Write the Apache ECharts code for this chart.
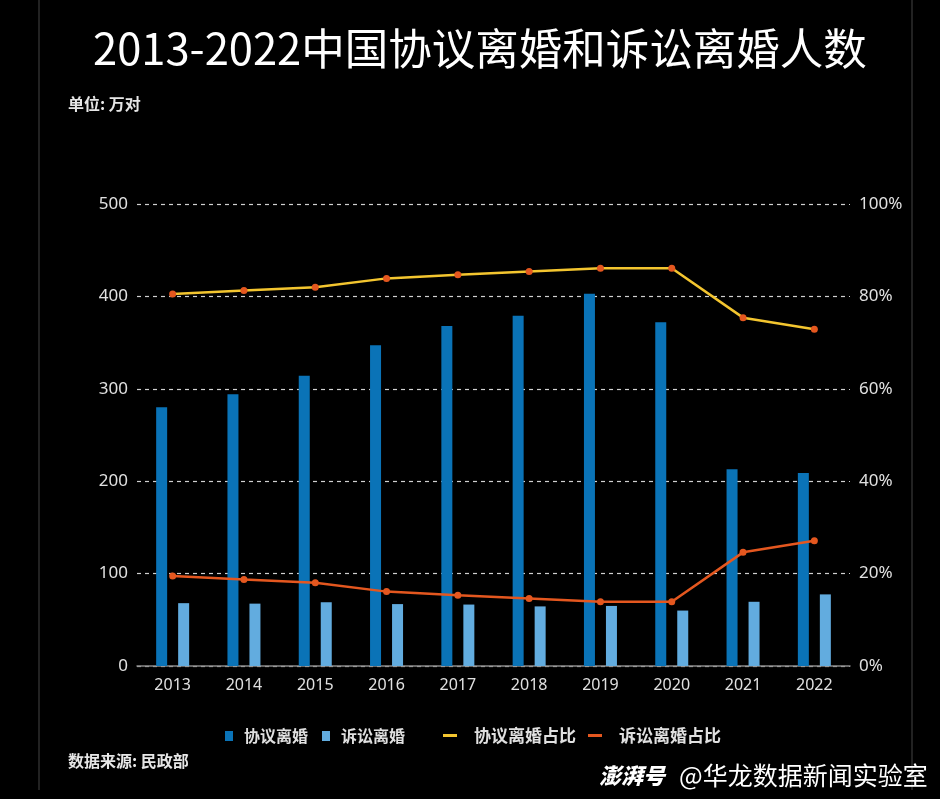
<!DOCTYPE html>
<html><head><meta charset="utf-8">
<script src="https://cdn.jsdelivr.net/npm/echarts@6/dist/echarts.min.js"></script>
<style>html,body{margin:0;padding:0;background:#000;}#c{width:940px;height:799px;}</style>
</head><body><div id="c"></div>
<script>
const years = ['2013','2014','2015','2016','2017','2018','2019','2020','2021','2022'];
const agreement = [280, 294, 314, 347, 368, 379, 403, 372, 213, 209];
const litigation = [68, 67.5, 69, 67, 66.5, 64.5, 65, 60, 69.5, 77.5];
const agreementShare = [80.5, 81.3, 82.0, 83.9, 84.7, 85.4, 86.1, 86.1, 75.4, 72.9];
const litigationShare = [19.5, 18.7, 18.0, 16.1, 15.3, 14.6, 13.9, 13.9, 24.6, 27.1];
const leftTicks = {min:0, max:500, interval:100};
const rightTicks = {min:0, max:100, interval:20};

const font = "'Noto Sans CJK SC','Noto Sans',sans-serif";
const numFont = "'Noto Sans',sans-serif";
const chart = echarts.init(document.getElementById('c'));
chart.setOption({
  backgroundColor:'#000',
  animation:false,
  textStyle:{fontFamily:font},
  title:[
    {text:'2013-2022中国协议离婚和诉讼离婚人数', left:88, top:22,
     textStyle:{color:'#fff', fontSize:43.5, fontWeight:'normal', fontFamily:font}},
    {text:'单位: 万对', left:63, top:91, textStyle:{color:'#e6e6e6', fontSize:16, fontWeight:'bold', fontFamily:font}},
    {text:'数据来源: 民政部', left:63, top:748, textStyle:{color:'#e6e6e6', fontSize:16, fontWeight:'bold', fontFamily:font}}
  ],
  graphic:[
    {type:'line', shape:{x1:39,y1:0,x2:39,y2:790}, style:{stroke:'#444', lineWidth:1}},
    {type:'line', shape:{x1:912,y1:0,x2:912,y2:790}, style:{stroke:'#444', lineWidth:1}},
    {type:'text', left:599, top:765, style:{text:'澎湃号', fill:'#fff', font:"italic 900 22px 'Noto Sans CJK SC'"}},
    {type:'text', left:679, top:763, style:{text:'@华龙数据新闻实验室', fill:'#fff', font:"normal 25px 'Noto Sans CJK SC'"}}
  ],
  legend:[
    {data:['协议离婚','诉讼离婚'], left:220, top:723, itemWidth:8, itemHeight:10, itemGap:14, icon:'rect',
     textStyle:{color:'#e0e0e0', fontSize:16, fontWeight:'bold', fontFamily:font, padding:[0,0,0,6]}},
    {data:[{name:'协议离婚占比', itemStyle:{color:'#f3c52f'}}, {name:'诉讼离婚占比', itemStyle:{color:'#e4571f'}}],
     left:438, top:722, itemWidth:14, itemHeight:3, itemGap:12, icon:'rect',
     textStyle:{color:'#e0e0e0', fontSize:17, fontWeight:'bold', fontFamily:font, padding:[0,0,0,12]}}
  ],
  grid:{left:137, right:90, top:204, bottom:133},
  xAxis:{type:'category', data:years,
    axisLine:{lineStyle:{color:'#888', width:1.5}},
    axisTick:{alignWithLabel:true, length:5, lineStyle:{color:'#888'}},
    axisLabel:{color:'#e0e0e0', fontSize:16, margin:11, fontFamily:numFont}},
  yAxis:[
    {type:'value', min:leftTicks.min, max:leftTicks.max, interval:leftTicks.interval,
     axisLine:{show:false}, axisTick:{show:false},
     axisLabel:{color:'#e0e0e0', fontSize:17, margin:9, fontFamily:numFont},
     splitLine:{lineStyle:{color:'#d0d0d0', type:[4,4], width:1.2}}},
    {type:'value', min:rightTicks.min, max:rightTicks.max, interval:rightTicks.interval,
     axisLine:{show:false}, axisTick:{show:false},
     axisLabel:{color:'#e0e0e0', fontSize:17, margin:9, formatter:'{value}%', fontFamily:numFont},
     splitLine:{show:false}}
  ],
  series:[
    {name:'协议离婚', type:'bar', data:agreement, barWidth:11, barGap:'100%', itemStyle:{color:'#0a73b7'}},
    {name:'诉讼离婚', type:'bar', data:litigation, barWidth:11, itemStyle:{color:'#62acdf'}},
    {name:'协议离婚占比', type:'line', yAxisIndex:1, data:agreementShare, symbol:'circle', symbolSize:7,
     lineStyle:{color:'#f3c52f', width:2.5}, itemStyle:{color:'#e4571f'}},
    {name:'诉讼离婚占比', type:'line', yAxisIndex:1, data:litigationShare, symbol:'circle', symbolSize:7,
     lineStyle:{color:'#e4571f', width:2.5}, itemStyle:{color:'#e4571f'}}
  ]
});
</script></body></html>
